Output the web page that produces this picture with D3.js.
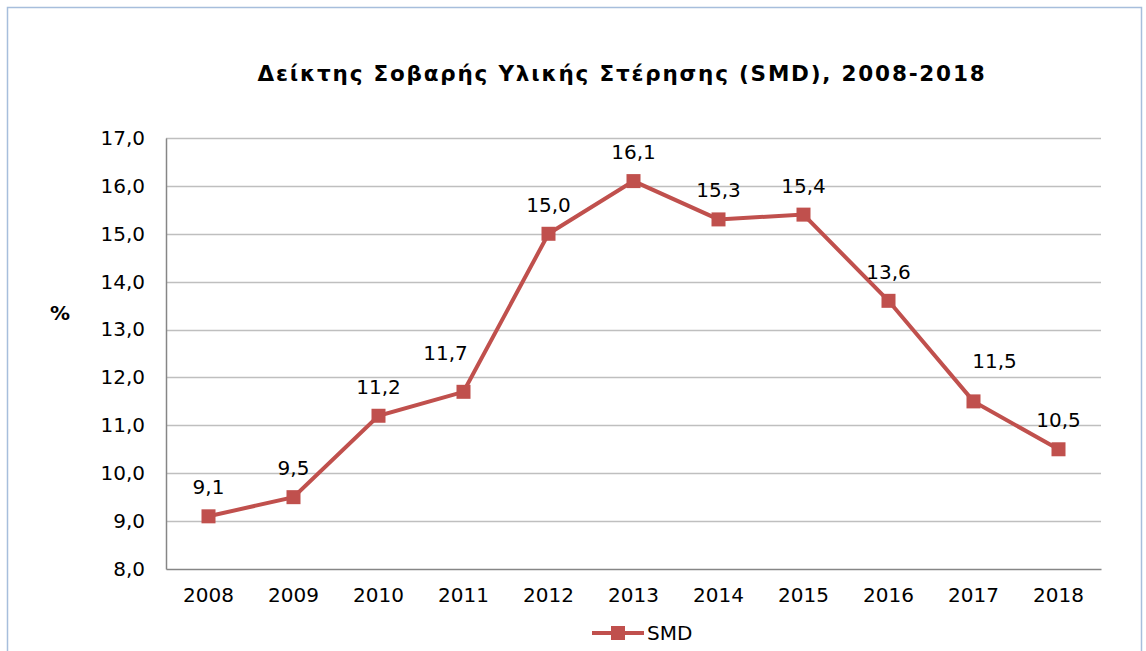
<!DOCTYPE html>
<html>
<head>
<meta charset="utf-8">
<script src="https://cdn.jsdelivr.net/npm/d3@7"></script>
<style>
  body { margin: 0; background: #fff; }
  svg { display: block; font-family: "DejaVu Sans", Verdana, sans-serif; }
</style>
</head>
<body>
<div id="chart"></div>
<script>
var years = ["2008", "2009", "2010", "2011", "2012", "2013", "2014", "2015", "2016", "2017", "2018"];
var smd = [9.1, 9.5, 11.2, 11.7, 15.0, 16.1, 15.3, 15.4, 13.6, 11.5, 10.5];
var yTicks = [8, 9, 10, 11, 12, 13, 14, 15, 16, 17];

var W = 1146, H = 651;
var margin = {left: 166, top: 138, right: 45, bottom: 82};
var width = W - margin.left - margin.right,
    height = H - margin.top - margin.bottom;
var fmt = function(v) { return v.toFixed(1).replace(".", ","); };
var fs = "20px";

// a few labels were nudged off the line by hand in the original
var nudge = {"2011": [-18, -10], "2017": [21, -11]};

var svg = d3.select("#chart").append("svg")
    .attr("width", W)
    .attr("height", H);

// outer frame
svg.append("rect")
    .attr("x", 7.5).attr("y", 7.5)
    .attr("width", W - 12).attr("height", H)
    .attr("fill", "none")
    .attr("stroke", "#a7bedc")
    .attr("stroke-width", 1.5);

svg.append("text")
    .attr("x", 622).attr("y", 81)
    .attr("text-anchor", "middle")
    .style("font-size", "21.5px")
    .style("font-weight", "bold")
    .style("letter-spacing", "1.8px")
    .text("Δείκτης Σοβαρής Υλικής Στέρησης (SMD), 2008-2018");

svg.append("text")
    .attr("x", 60).attr("y", 320)
    .attr("text-anchor", "middle")
    .style("font-size", fs)
    .style("font-weight", "bold")
    .text("%");

var g = svg.append("g")
    .attr("transform", "translate(" + margin.left + "," + margin.top + ")");

var x = d3.scaleBand().domain(years).range([0, width]);
var y = d3.scaleLinear().domain([8, 17]).range([height, 0]);

// gridlines
g.selectAll(".grid")
    .data(yTicks.slice(1))
    .enter()
    .append("line")
    .attr("x1", 0).attr("x2", width)
    .attr("y1", function(d) { return Math.round(y(d)) + 0.5; })
    .attr("y2", function(d) { return Math.round(y(d)) + 0.5; })
    .attr("stroke", "#bfbfbf")
    .attr("stroke-width", 1.5);

var yAxis = d3.axisLeft(y).tickValues(yTicks).tickFormat(fmt).tickSize(0).tickPadding(21);
g.append("g")
    .attr("class", "y axis")
    .call(yAxis)
    .call(function(a) { a.select(".domain").attr("stroke", "#868686").attr("stroke-width", 1.5); })
    .selectAll("text")
    .style("font-size", fs)
    .style("font-family", "DejaVu Sans, Verdana, sans-serif")
    .attr("fill", "#000");

var xAxis = d3.axisBottom(x).tickSize(0).tickPadding(19);
g.append("g")
    .attr("class", "x axis")
    .attr("transform", "translate(0," + height + ")")
    .call(xAxis)
    .call(function(a) { a.select(".domain").attr("stroke", "#868686").attr("stroke-width", 1.5); })
    .selectAll("text")
    .style("font-size", fs)
    .style("font-family", "DejaVu Sans, Verdana, sans-serif")
    .attr("fill", "#000");

var cx = function(d, i) { return x(years[i]) + x.bandwidth() / 2; };

var line = d3.line()
    .x(function(d, i) { return cx(d, i); })
    .y(function(d) { return y(d); });

g.append("path")
    .datum(smd)
    .attr("d", line)
    .attr("fill", "none")
    .attr("stroke", "#c0504d")
    .attr("stroke-width", 4);

g.selectAll(".pt")
    .data(smd)
    .enter()
    .append("rect")
    .attr("class", "pt")
    .attr("x", function(d, i) { return cx(d, i) - 7; })
    .attr("y", function(d) { return y(d) - 7; })
    .attr("width", 14).attr("height", 14)
    .attr("fill", "#c0504d");

g.selectAll(".lbl")
    .data(smd)
    .enter()
    .append("text")
    .attr("class", "lbl")
    .attr("x", function(d, i) { return cx(d, i) + (nudge[years[i]] ? nudge[years[i]][0] : 0); })
    .attr("y", function(d, i) { return y(d) - 22 + (nudge[years[i]] ? nudge[years[i]][1] : 0); })
    .attr("text-anchor", "middle")
    .style("font-size", fs)
    .text(fmt);

// legend
var leg = svg.append("g").attr("transform", "translate(592,633)");
leg.append("line").attr("x1", 0).attr("x2", 52).attr("y1", 0).attr("y2", 0)
    .attr("stroke", "#c0504d").attr("stroke-width", 4);
leg.append("rect").attr("x", 19).attr("y", -7).attr("width", 14).attr("height", 14)
    .attr("fill", "#c0504d");
leg.append("text").attr("x", 55).attr("y", 7)
    .style("font-size", fs)
    .text("SMD");
</script>
</body>
</html>
